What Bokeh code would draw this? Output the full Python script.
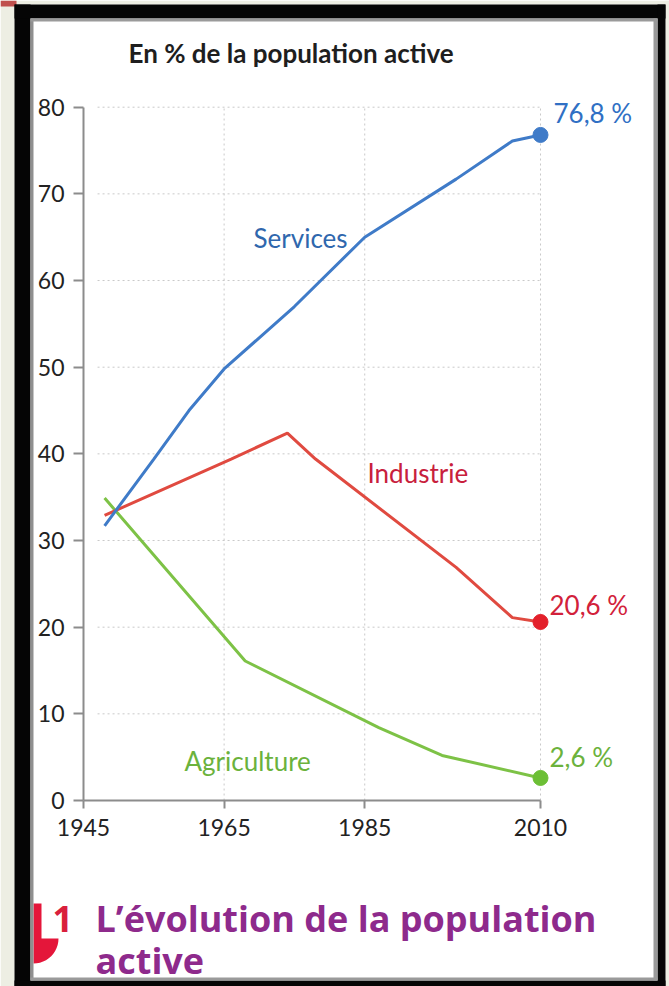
import math
from bokeh.plotting import figure
from bokeh.models import FixedTicker, Label, BoxAnnotation, PolyAnnotation, Range1d
from bokeh.embed import file_html
from bokeh.resources import INLINE

# ---------------- data ----------------
years_services = [1948, 1955, 1960, 1965, 1975, 1985, 1998, 2006, 2010]
services = [31.7, 39.4, 45.0, 49.8, 57.0, 65.0, 71.7, 76.1, 76.8]

years_industrie = [1948, 1966, 1974, 1978, 1998, 2006, 2010]
industrie = [32.9, 39.4, 42.4, 39.4, 26.9, 21.1, 20.6]

years_agriculture = [1948, 1968, 1987, 1996, 2010]
agriculture = [34.9, 16.1, 8.4, 5.2, 2.6]

x_ticks = [1945, 1965, 1985, 2010]
y_ticks = [0, 10, 20, 30, 40, 50, 60, 70, 80]
grid_x = [1965, 1985, 2010]
grid_y = [10, 20, 30, 40, 50, 60, 70, 80]

series_names = ["Services", "Industrie", "Agriculture"]
end_labels = ["76,8 %", "20,6 %", "2,6 %"]
title_text = "En % de la population active"
caption_num = "1"
caption_lines = ["L\u2019\u00e9volution de la population", "active"]

# ---------------- layout ----------------
W, H = 669, 986
AX_X, AX_Y = 83, 800          # pixel of (1945, 0)
SX = (540 - 83) / 65.0        # px per year
SY = (800 - 106.7) / 80.0     # px per percent

BLUE, BLUE_T = "#3F7BC8", "#2F67AD"
RED, RED_T, RED_DOT = "#E04A40", "#C8203C", "#E3202B"
GREEN, GREEN_T, GREEN_DOT = "#7DC246", "#6BB23C", "#6CBF35"
FONT = "Lato"


def dx(px):
    return 1945 + (px - AX_X) / SX


def dy(py):
    return (AX_Y - py) / SY


p = figure(width=W, height=H, output_backend="svg", toolbar_location=None,
           x_range=Range1d(dx(0), dx(W)), y_range=Range1d(dy(H), dy(0)),
           min_border=0, min_border_left=0, min_border_right=0,
           min_border_top=0, min_border_bottom=0)
p.outline_line_color = None
p.grid.visible = False
p.background_fill_color = "white"
p.border_fill_color = "white"

# axes placed inside the frame
p.yaxis.fixed_location = 1945
p.xaxis.fixed_location = 0
for ax, ticks, bnds, tout, stand in ((p.yaxis, y_ticks, (0, 80), 10, 9),
                                     (p.xaxis, x_ticks, (1945, 2010), 8, 10)):
    ax.ticker = FixedTicker(ticks=ticks)
    ax.bounds = bnds
    ax.major_tick_out = tout
    ax.major_tick_in = 0
    ax.minor_tick_out = 0
    ax.minor_tick_in = 0
    ax.axis_line_color = "#8c8c8c"
    ax.axis_line_width = 2
    ax.major_tick_line_color = "#8c8c8c"
    ax.major_tick_line_width = 2
    ax.major_label_text_font = FONT
    ax.major_label_text_font_size = "23px"
    ax.major_label_text_color = "#222222"
    ax.major_label_standoff = stand

# dotted grid lines
p.segment(x0=[1947] * len(grid_y), y0=grid_y, x1=[2010] * len(grid_y), y1=grid_y,
          line_color="#c9c9c9", line_width=1, line_dash="2 3", level="underlay")
p.segment(x0=grid_x, y0=[0] * len(grid_x), x1=grid_x, y1=[80] * len(grid_x),
          line_color="#c9c9c9", line_width=1, line_dash="2 3", level="underlay")

# series
p.line(years_agriculture, agriculture, line_color=GREEN, line_width=3)
p.line(years_industrie, industrie, line_color=RED, line_width=3)
p.line(years_services, services, line_color=BLUE, line_width=3)
p.scatter([years_services[-1]], [services[-1]], size=15, color=BLUE)
p.scatter([years_industrie[-1]], [industrie[-1]], size=15, color=RED_DOT)
p.scatter([years_agriculture[-1]], [agriculture[-1]], size=15, color=GREEN_DOT)

# series labels
for txt, px, py, col in ((series_names[0], 253, 237, BLUE_T),
                         (series_names[1], 367, 472, RED_T),
                         (series_names[2], 184, 760, GREEN_T)):
    p.add_layout(Label(x=dx(px), y=dy(py), text=txt, text_font=FONT,
                       text_font_size="26px", text_color=col,
                       text_align="left", text_baseline="middle"))

for txt, px, py, col in ((end_labels[0], 553, 112, "#3070C4"),
                         (end_labels[1], 549, 604, "#D2213A"),
                         (end_labels[2], 549, 756, GREEN_T)):
    p.add_layout(Label(x=dx(px), y=dy(py), text=txt, text_font=FONT,
                       text_font_size="26px", text_color=col,
                       text_align="left", text_baseline="middle"))

# title
p.add_layout(Label(x=dx(128), y=dy(52), text=title_text, text_font=FONT,
                   text_font_style="bold", text_font_size="26px",
                   text_color="#1e1e1e", text_align="left", text_baseline="middle"))

# caption
p.add_layout(Label(x=dx(52), y=dy(918), text=caption_num, text_font="Open Sans",
                   text_font_style="bold", text_font_size="36px",
                   text_color="#D9203C", text_align="left", text_baseline="middle"))
p.add_layout(Label(x=dx(95), y=dy(918), text=caption_lines[0], text_font="Open Sans",
                   text_font_style="bold", text_font_size="36px",
                   text_color="#8E2A8C", text_align="left", text_baseline="middle"))
p.add_layout(Label(x=dx(95), y=dy(960), text=caption_lines[1], text_font="Open Sans",
                   text_font_style="bold", text_font_size="36px",
                   text_color="#8E2A8C", text_align="left", text_baseline="middle"))

# red tab next to the caption
cx, cy, r = 33, 938, 25
xs = [dx(33), dx(41), dx(41), dx(33 + r)]
ys = [dy(903), dy(903), dy(938), dy(938)]
for k in range(1, 13):
    a = k * (math.pi / 2) / 12
    xs.append(dx(cx + r * math.cos(a)))
    ys.append(dy(cy + r * math.sin(a)))
xs.append(dx(33))
ys.append(dy(938))
p.add_layout(PolyAnnotation(xs=xs, ys=ys, fill_color="#E4163A", fill_alpha=1,
                            line_alpha=0))

# page frame: beige edges, black border, grey inner line


def box(l, r_, t, b, fill, alpha=1.0):
    p.add_layout(BoxAnnotation(left=dx(l), right=dx(r_), top=dy(t), bottom=dy(b),
                               fill_color=fill, fill_alpha=alpha, line_alpha=0))


box(0, 14, 0, 986, "#EDEEE3")
box(665, 669, 0, 986, "#EDEEE3")
box(0, 669, 0, 4, "#EDEEE3")
box(0, 16, 0, 6, "#C0504D")
box(14, 30, 4, 986, "#050505")
box(14, 665, 4, 18, "#050505")
box(657, 665, 4, 986, "#050505")
box(14, 665, 980, 986, "#050505")
box(30, 33, 18, 980, "#8f8f8f")
box(653, 657, 18, 980, "#9a9a9a")
box(30, 657, 18, 21, "#9a9a9a")
box(30, 657, 977, 980, "#9a9a9a")

open("out.html", "w").write(file_html(p, INLINE))
